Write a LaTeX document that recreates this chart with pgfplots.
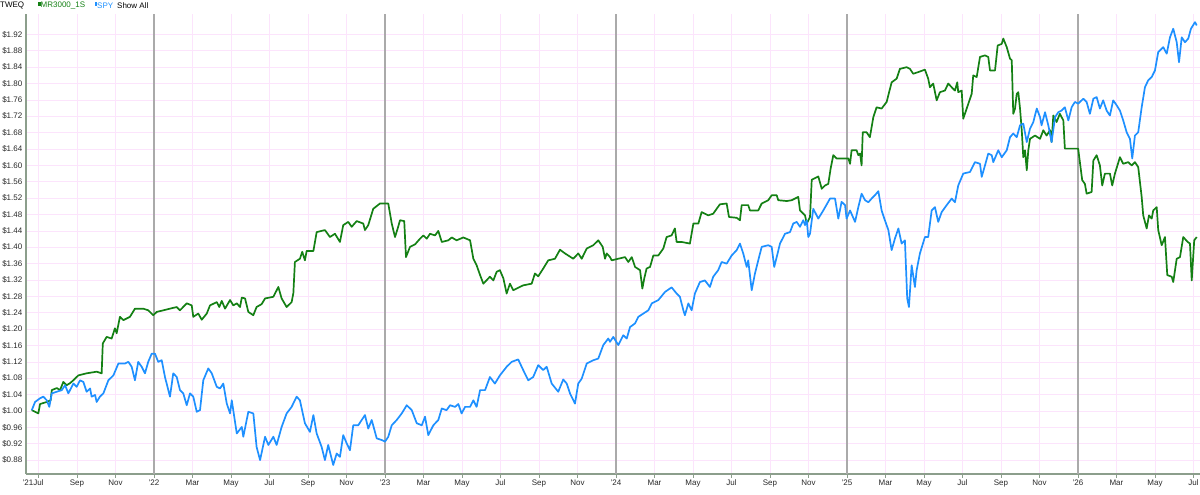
\documentclass[border=0pt]{standalone}
\usepackage{fontspec}
\setmainfont{Liberation Sans}
\usepackage{pgfplots}
\pgfplotsset{compat=1.18}
\definecolor{mrgreen}{RGB}{20,128,20}
\definecolor{spyblue}{RGB}{30,144,255}
\definecolor{gridpink}{RGB}{252,228,252}
\definecolor{axisgray}{RGB}{140,158,140}
\definecolor{yeargray}{RGB}{170,170,170}
\definecolor{labelgray}{RGB}{40,40,40}
\begin{document}
\begin{tikzpicture}[x=1pt,y=1pt]
\path[use as bounding box] (0,0) rectangle (1200,495);
\begin{axis}[
  at={(26pt,21pt)}, anchor=south west,
  scale only axis, width=1174pt, height=460pt,
  xmin=5.35, xmax=66.34, ymin=0.846, ymax=1.97,
  axis x line=bottom, axis y line=left,
  axis line style={-, draw=axisgray, line width=1.2pt},
  xtick={6,8,...,66},
  xticklabels={\llap{'21}Jul,Sep,Nov,'22,Mar,May,Jul,Sep,Nov,'23,Mar,May,Jul,Sep,Nov,'24,Mar,May,Jul,Sep,Nov,'25,Mar,May,Jul,Sep,Nov,'26,Mar,May,Jul},
  ytick={0.88,0.92,0.96,1.00,1.04,1.08,1.12,1.16,1.20,1.24,1.28,1.32,1.36,1.40,1.44,1.48,1.52,1.56,1.60,1.64,1.68,1.72,1.76,1.80,1.84,1.88,1.92},
  /pgf/number format/assume math mode=true,
  yticklabel={\$\pgfmathprintnumber[fixed,fixed zerofill,precision=2]{\tick}},
  ticklabel style={font=\fontsize{8}{9}\selectfont, text=labelgray},
  yticklabel style={inner sep=1.5pt},
  xticklabel style={inner sep=1pt, yshift=-1pt},
  xtick align=outside,
  x tick style={draw=axisgray, line width=0.8pt},
  y tick style={draw=none},
  major tick length=4pt,
  grid=major,
  major grid style={draw=gridpink, line width=0.7pt},
  extra x ticks={12,24,36,48,60},
  extra x tick labels={},
  extra x tick style={grid=major, major grid style={draw=yeargray, line width=1.1pt}, tick style={draw=none}},
  clip=false,
]
\addplot[mrgreen, line width=1.7pt, line join=round] coordinates {
(5.65,1.002)(5.99,0.994)(6.08,1.017)(6.43,1.022)(6.63,1.026)(6.69,1.051)(6.95,1.056)(7.12,1.051)(7.29,1.071)(7.46,1.063)(7.64,1.068)(7.81,1.075)(8.07,1.087)(8.50,1.092)(9.02,1.096)(9.28,1.092)(9.34,1.165)(9.54,1.181)(9.80,1.177)(9.97,1.202)(10.06,1.190)(10.23,1.230)(10.41,1.222)(10.75,1.230)(11.01,1.250)(11.44,1.250)(11.70,1.246)(11.96,1.234)(12.14,1.242)(13.18,1.254)(13.35,1.246)(13.70,1.263)(13.96,1.258)(14.04,1.230)(14.30,1.238)(14.48,1.223)(14.74,1.238)(14.91,1.258)(15.26,1.266)(15.39,1.254)(15.52,1.269)(15.69,1.250)(15.95,1.271)(16.12,1.258)(16.30,1.263)(16.47,1.254)(16.56,1.277)(16.73,1.275)(16.90,1.242)(17.16,1.234)(17.33,1.254)(17.59,1.261)(17.77,1.275)(18.20,1.279)(18.46,1.303)(18.63,1.275)(18.89,1.254)(19.15,1.266)(19.24,1.288)(19.32,1.364)(19.58,1.372)(19.70,1.389)(19.84,1.368)(19.93,1.391)(20.28,1.391)(20.45,1.437)(20.88,1.442)(21.14,1.425)(21.40,1.433)(21.66,1.413)(21.83,1.454)(22.09,1.462)(22.27,1.450)(22.53,1.464)(22.87,1.458)(22.96,1.442)(23.13,1.454)(23.39,1.494)(23.74,1.507)(24.17,1.507)(24.35,1.458)(24.52,1.425)(24.66,1.446)(24.78,1.466)(25.00,1.464)(25.09,1.376)(25.30,1.401)(25.56,1.407)(25.82,1.421)(25.99,1.429)(26.17,1.421)(26.34,1.433)(26.60,1.429)(26.77,1.440)(26.95,1.413)(27.29,1.417)(27.47,1.424)(27.72,1.417)(28.07,1.424)(28.42,1.417)(28.59,1.372)(28.76,1.356)(28.94,1.332)(29.11,1.311)(29.45,1.328)(29.63,1.319)(29.80,1.340)(29.97,1.344)(30.15,1.324)(30.32,1.287)(30.49,1.311)(30.66,1.295)(31.18,1.307)(31.62,1.311)(31.79,1.336)(31.96,1.329)(32.22,1.348)(32.48,1.368)(32.83,1.372)(33.09,1.394)(33.35,1.385)(33.78,1.372)(34.04,1.385)(34.22,1.372)(34.48,1.397)(34.82,1.405)(35.08,1.417)(35.31,1.401)(35.43,1.372)(35.52,1.385)(35.69,1.376)(35.78,1.368)(36.12,1.372)(36.47,1.376)(36.64,1.364)(36.82,1.376)(36.99,1.352)(37.25,1.344)(37.37,1.299)(37.47,1.324)(37.59,1.348)(37.77,1.352)(37.94,1.380)(38.20,1.380)(38.46,1.397)(38.63,1.425)(38.89,1.429)(39.06,1.446)(39.15,1.413)(39.41,1.413)(39.84,1.409)(40.02,1.458)(40.28,1.458)(40.45,1.486)(40.79,1.478)(41.05,1.482)(41.23,1.494)(41.40,1.505)(41.75,1.507)(41.87,1.474)(42.27,1.472)(42.44,1.466)(42.53,1.503)(42.87,1.503)(42.96,1.490)(43.39,1.490)(43.57,1.507)(43.91,1.515)(44.09,1.527)(44.35,1.527)(44.43,1.515)(44.87,1.513)(45.13,1.515)(45.47,1.523)(45.56,1.490)(45.82,1.478)(45.91,1.458)(46.08,1.474)(46.17,1.565)(46.51,1.573)(46.69,1.543)(46.86,1.551)(47.03,1.555)(47.15,1.592)(47.29,1.625)(47.46,1.617)(48.07,1.617)(48.16,1.604)(48.24,1.637)(48.50,1.637)(48.59,1.625)(48.68,1.629)(48.76,1.600)(48.82,1.681)(49.02,1.681)(49.19,1.669)(49.37,1.718)(49.54,1.742)(49.80,1.739)(50.06,1.755)(50.32,1.803)(50.58,1.812)(50.75,1.836)(51.10,1.840)(51.27,1.836)(51.44,1.824)(51.70,1.828)(52.05,1.834)(52.22,1.812)(52.31,1.791)(52.48,1.800)(52.66,1.759)(52.83,1.779)(53.09,1.783)(53.26,1.800)(53.44,1.791)(53.61,1.783)(53.73,1.803)(53.78,1.779)(53.96,1.783)(54.04,1.714)(54.22,1.739)(54.48,1.775)(54.56,1.820)(54.74,1.816)(54.91,1.865)(55.17,1.869)(55.34,1.865)(55.43,1.832)(55.69,1.832)(55.83,1.893)(56.04,1.897)(56.12,1.910)(56.30,1.889)(56.47,1.861)(56.56,1.857)(56.64,1.726)(56.73,1.739)(56.82,1.775)(56.90,1.779)(56.99,1.739)(57.08,1.686)(57.16,1.620)(57.25,1.637)(57.34,1.588)(57.42,1.637)(57.51,1.665)(57.77,1.673)(58.03,1.665)(58.20,1.686)(58.37,1.673)(58.55,1.686)(58.63,1.657)(58.72,1.722)(58.89,1.706)(59.06,1.726)(59.24,1.710)(59.32,1.641)(60.01,1.641)(60.10,1.608)(60.22,1.564)(60.36,1.555)(60.45,1.531)(60.71,1.535)(60.80,1.612)(60.97,1.625)(61.14,1.600)(61.26,1.551)(61.40,1.580)(61.66,1.580)(61.78,1.551)(61.92,1.580)(62.18,1.620)(62.35,1.604)(62.61,1.608)(62.79,1.600)(62.96,1.608)(63.13,1.596)(63.31,1.523)(63.39,1.478)(63.57,1.446)(63.69,1.478)(63.83,1.470)(63.91,1.490)(64.09,1.498)(64.17,1.442)(64.35,1.405)(64.52,1.425)(64.64,1.332)(64.87,1.328)(64.95,1.315)(65.13,1.372)(65.30,1.376)(65.47,1.425)(65.70,1.413)(65.82,1.409)(65.91,1.319)(66.04,1.417)(66.17,1.425)
};
\addplot[spyblue, line width=1.7pt, line join=round] coordinates {
(5.65,1.002)(5.82,1.022)(6.08,1.031)(6.25,1.035)(6.43,1.026)(6.56,1.010)(6.69,1.043)(6.95,1.047)(7.21,1.051)(7.38,1.063)(7.55,1.043)(7.81,1.067)(7.98,1.059)(8.16,1.075)(8.33,1.071)(8.50,1.047)(8.68,1.055)(8.76,1.035)(8.94,1.039)(9.02,1.022)(9.19,1.035)(9.37,1.043)(9.63,1.075)(9.89,1.087)(10.15,1.116)(10.49,1.116)(10.67,1.120)(10.84,1.108)(11.01,1.075)(11.18,1.120)(11.36,1.108)(11.53,1.092)(11.70,1.120)(11.88,1.140)(12.05,1.140)(12.22,1.120)(12.40,1.124)(12.57,1.083)(12.83,1.035)(13.00,1.092)(13.18,1.083)(13.35,1.051)(13.52,1.043)(13.70,1.014)(13.87,1.043)(14.04,1.035)(14.22,0.998)(14.39,1.002)(14.56,1.075)(14.82,1.104)(15.00,1.092)(15.26,1.059)(15.43,1.055)(15.60,1.067)(15.78,1.018)(15.95,0.994)(16.04,1.026)(16.30,0.945)(16.56,0.961)(16.64,0.937)(16.90,0.998)(17.16,0.994)(17.33,0.912)(17.51,0.880)(17.77,0.937)(17.94,0.917)(18.20,0.937)(18.37,0.917)(18.63,0.961)(18.89,0.994)(19.15,1.010)(19.41,1.035)(19.58,1.026)(19.84,0.970)(20.10,0.949)(20.28,0.990)(20.45,0.945)(20.71,0.912)(20.88,0.880)(21.05,0.917)(21.31,0.868)(21.49,0.896)(21.66,0.888)(21.83,0.941)(22.01,0.921)(22.18,0.904)(22.35,0.965)(22.61,0.965)(22.79,0.978)(22.96,0.990)(23.13,0.957)(23.31,0.978)(23.57,0.933)(23.83,0.929)(24.00,0.925)(24.17,0.937)(24.35,0.965)(24.61,0.978)(24.87,0.994)(25.13,1.014)(25.39,1.002)(25.65,0.970)(25.91,0.965)(26.08,0.986)(26.25,0.941)(26.51,0.965)(26.77,0.978)(26.95,1.006)(27.20,1.002)(27.38,1.014)(27.64,1.010)(27.81,1.017)(27.98,0.994)(28.16,1.010)(28.42,1.010)(28.59,1.026)(28.76,1.010)(28.94,1.051)(29.20,1.051)(29.45,1.083)(29.71,1.067)(29.97,1.087)(30.32,1.108)(30.58,1.120)(30.92,1.126)(31.18,1.100)(31.44,1.075)(31.70,1.083)(31.96,1.112)(32.22,1.100)(32.40,1.108)(32.66,1.067)(33.00,1.047)(33.26,1.077)(33.44,1.067)(33.61,1.043)(33.87,1.018)(34.04,1.067)(34.22,1.079)(34.48,1.116)(34.82,1.124)(35.08,1.128)(35.34,1.161)(35.60,1.177)(35.69,1.169)(35.86,1.181)(36.12,1.161)(36.38,1.185)(36.56,1.177)(36.73,1.205)(36.99,1.214)(37.16,1.230)(37.42,1.238)(37.68,1.246)(37.86,1.263)(38.20,1.271)(38.55,1.291)(38.89,1.302)(39.15,1.287)(39.32,1.279)(39.50,1.246)(39.58,1.234)(39.76,1.263)(39.93,1.246)(40.10,1.287)(40.36,1.315)(40.62,1.319)(40.88,1.303)(41.05,1.328)(41.31,1.344)(41.49,1.364)(41.75,1.360)(42.01,1.380)(42.27,1.393)(42.44,1.409)(42.61,1.385)(42.79,1.352)(42.87,1.368)(43.05,1.295)(43.22,1.336)(43.39,1.368)(43.57,1.401)(43.91,1.405)(44.09,1.401)(44.22,1.352)(44.35,1.376)(44.52,1.409)(44.78,1.433)(45.04,1.437)(45.21,1.458)(45.39,1.462)(45.56,1.450)(45.73,1.466)(45.82,1.454)(45.91,1.466)(45.99,1.425)(46.08,1.433)(46.25,1.494)(46.51,1.470)(46.77,1.490)(47.12,1.519)(47.38,1.519)(47.55,1.470)(47.72,1.511)(47.90,1.503)(47.98,1.470)(48.16,1.490)(48.42,1.462)(48.59,1.498)(48.76,1.531)(48.94,1.515)(49.11,1.510)(49.28,1.519)(49.45,1.527)(49.63,1.537)(49.80,1.490)(49.97,1.466)(50.15,1.442)(50.32,1.393)(50.49,1.421)(50.67,1.446)(50.84,1.409)(51.01,1.417)(51.13,1.275)(51.22,1.254)(51.36,1.356)(51.53,1.303)(51.62,1.344)(51.79,1.385)(52.05,1.425)(52.22,1.425)(52.40,1.490)(52.57,1.498)(52.74,1.462)(52.92,1.486)(53.18,1.503)(53.44,1.519)(53.61,1.510)(53.78,1.551)(54.04,1.580)(54.39,1.584)(54.65,1.608)(54.91,1.604)(55.00,1.572)(55.17,1.600)(55.34,1.629)(55.52,1.625)(55.60,1.608)(55.86,1.637)(56.04,1.620)(56.30,1.637)(56.47,1.669)(56.64,1.678)(56.82,1.669)(56.99,1.698)(57.16,1.702)(57.34,1.657)(57.51,1.690)(57.68,1.706)(57.86,1.739)(58.03,1.718)(58.11,1.698)(58.29,1.730)(58.46,1.698)(58.63,1.657)(58.81,1.718)(58.98,1.730)(59.15,1.734)(59.32,1.742)(59.50,1.710)(59.67,1.742)(59.84,1.755)(60.01,1.751)(60.28,1.763)(60.45,1.755)(60.62,1.726)(60.80,1.763)(60.97,1.767)(61.14,1.739)(61.31,1.759)(61.49,1.734)(61.66,1.722)(61.83,1.759)(62.01,1.747)(62.18,1.734)(62.35,1.710)(62.53,1.681)(62.70,1.665)(62.82,1.617)(62.96,1.673)(63.13,1.681)(63.31,1.742)(63.48,1.791)(63.65,1.808)(63.83,1.816)(64.00,1.832)(64.17,1.877)(64.43,1.889)(64.61,1.873)(64.78,1.913)(64.95,1.934)(65.13,1.901)(65.25,1.852)(65.39,1.913)(65.56,1.901)(65.73,1.910)(65.87,1.934)(66.08,1.950)(66.17,1.942)
};
\end{axis}
\begin{scope}[every node/.style={font=\fontsize{8}{9}\selectfont, anchor=west, inner sep=0pt}]
\node at (0,489.5) {TWEQ};
\fill[mrgreen] (38,488.5) rectangle (40.5,493);
\node[text=mrgreen] at (40.5,489.5) {MR3000\_1S};
\fill[spyblue] (94.5,488.5) rectangle (97,493);
\node[text=spyblue] at (97,489.5) {SPY};
\node at (117,489.5) {Show All};
\end{scope}
\end{tikzpicture}
\end{document}
